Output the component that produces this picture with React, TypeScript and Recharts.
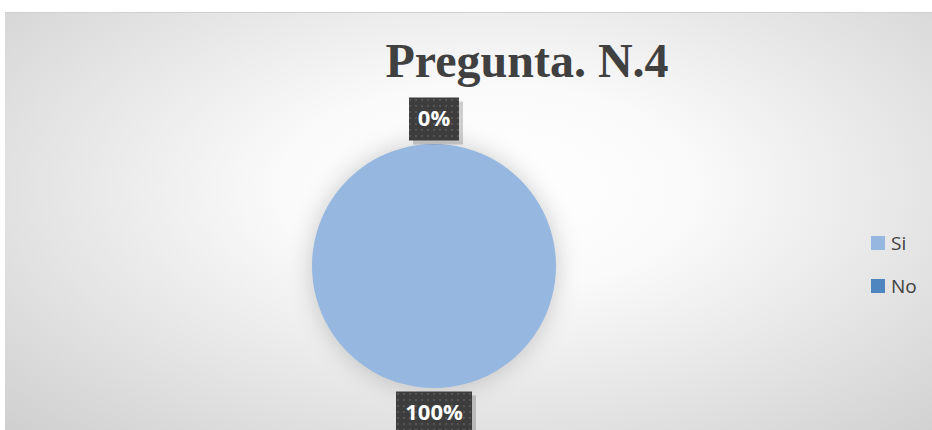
import React from 'react'
import { PieChart, Pie, Cell, Legend } from 'recharts'

const categories = ['Si', 'No']
const values = [100, 0]
const colors = ['#95b7e0', '#4f86c0']
const title = 'Pregunta. N.4'

const data = categories.map((name, i) => ({ name, value: values[i] }))

const RAD = Math.PI / 180

function BoxLabel(props: any) {
  const { cx, cy, midAngle, outerRadius, percent, index } = props
  const r = outerRadius + 25
  const x = cx + r * Math.cos(-midAngle * RAD)
  const y = cy + r * Math.sin(-midAngle * RAD)
  const text = `${Math.round(percent * 100)}%`
  const w = text.length > 2 ? 76 : 50
  const h = 43
  const pid = `dots-${index}`
  return (
    <g>
      <defs>
        <pattern id={pid} width="6" height="6" patternUnits="userSpaceOnUse">
          <rect width="6" height="6" fill="#3d3d3d" />
          <rect x="2" y="2" width="2" height="2" fill="#555555" />
        </pattern>
      </defs>
      <rect x={x - w / 2 + 4} y={y - h / 2 + 4} width={w} height={h} fill="#000" opacity={0.18} />
      <rect x={x - w / 2} y={y - h / 2} width={w} height={h} fill={`url(#${pid})`} />
      <text
        x={x}
        y={y + 1}
        textAnchor="middle"
        dominantBaseline="middle"
        fill="#ffffff"
        fontFamily="'Open Sans', sans-serif"
        fontWeight={700}
        fontSize={22}
      >
        {text}
      </text>
    </g>
  )
}

function LegendBox() {
  return (
    <div style={{ fontFamily: "'Open Sans', sans-serif", fontSize: 19, color: '#404040' }}>
      {categories.map((c, i) => (
        <div key={c} style={{ display: 'flex', alignItems: 'center', height: 24, marginBottom: i === 0 ? 19 : 0 }}>
          <span style={{ width: 14, height: 14, background: colors[i], display: 'inline-block', marginRight: 6 }} />
          <span>{c}</span>
        </div>
      ))}
    </div>
  )
}

export default function App() {
  return (
    <>
      <style>{`body{margin:0;overflow:hidden} .recharts-pie-sector path{filter:drop-shadow(0 0 12px rgba(0,0,0,0.2))}`}</style>
      <div
        style={{
          position: 'absolute',
          left: 5,
          top: 12,
          width: 927,
          height: 418,
          borderTop: '1px solid #d0d0d0',
          background: 'radial-gradient(ellipse at 52% 42%, #ffffff 0%, #fafafa 30%, #cfcfcf 100%)',
          overflow: 'hidden',
        }}
      >
        <div
          style={{
            position: 'absolute',
            left: 0,
            width: 1044,
            top: 21,
            textAlign: 'center',
            fontFamily: "'Liberation Serif', 'Times New Roman', serif",
            fontWeight: 700,
            fontSize: 48,
            color: '#404040',
            lineHeight: '54px',
          }}
        >
          {title}
        </div>
        <PieChart
          width={927}
          height={417}
          margin={{ top: 0, right: 0, bottom: 0, left: 0 }}
          style={{ position: 'absolute', left: 0, top: 0 }}
        >
          <Pie
            data={data}
            dataKey="value"
            nameKey="name"
            cx={429}
            cy={253}
            outerRadius={122}
            startAngle={90}
            endAngle={-270}
            stroke="none"
            label={BoxLabel}
            labelLine={false}
            isAnimationActive={false}
          >
            {data.map((d, i) => (
              <Cell key={d.name} fill={colors[i]} />
            ))}
          </Pie>
          <Legend
            layout="vertical"
            align="right"
            verticalAlign="top"
            content={<LegendBox />}
            wrapperStyle={{ left: 866, top: 218, width: 60 }}
          />
        </PieChart>
      </div>
    </>
  )
}
